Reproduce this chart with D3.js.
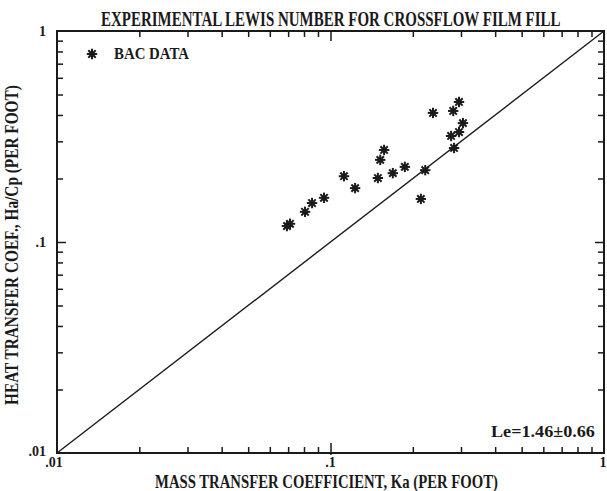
<!DOCTYPE html>
<html>
<head>
<meta charset="utf-8">
<script src="https://cdn.jsdelivr.net/npm/d3@7"></script>
<style>
  html, body { margin: 0; padding: 0; background: #fff; }
  svg { display: block; }
  text { font-family: "Liberation Serif", "DejaVu Serif", serif; font-weight: bold; fill: #1a1a1a; }
</style>
</head>
<body>
<svg id="chart" width="607" height="491"></svg>
<script>
// ---- data ----
const titleText = "EXPERIMENTAL LEWIS NUMBER FOR CROSSFLOW FILM FILL";
const xTitle = "MASS TRANSFER COEFFICIENT, Ka (PER FOOT)";
const yTitle = "HEAT TRANSFER COEF., Ha/Cp (PER FOOT)";
const seriesName = "BAC DATA";
const annotation = "Le=1.46\u00B10.66";

const massTransfer = [0.0693, 0.0711, 0.0807, 0.0856, 0.0947, 0.112, 0.123, 0.149, 0.152, 0.157,
                      0.169, 0.187, 0.222, 0.214, 0.237, 0.281, 0.295, 0.305, 0.295, 0.276, 0.283];
const heatTransfer = [0.119, 0.122, 0.139, 0.153, 0.162, 0.205, 0.180, 0.201, 0.245, 0.273,
                      0.212, 0.227, 0.219, 0.160, 0.409, 0.418, 0.461, 0.366, 0.332, 0.318, 0.279];
const lineX = [0.01, 1];
const lineY = [0.01, 1];
const majorTicks = [0.01, 0.1, 1];
const majorLabels = [".01", ".1", "1"];
const minorTicks = [0.02, 0.03, 0.04, 0.05, 0.06, 0.07, 0.08, 0.09, 0.2, 0.3, 0.4, 0.5, 0.6, 0.7, 0.8, 0.9];

// ---- layout ----
const L = 57, R = 604, T = 31, B = 453;
const ink = "#1a1a1a";
const svg = d3.select("#chart");

const x = d3.scaleLog().domain([0.01, 1]).range([L, R]);
const y = d3.scaleLog().domain([0.01, 1]).range([B, T]);

// frame
svg.append("rect").attr("x", L).attr("y", T).attr("width", R - L).attr("height", B - T)
  .attr("fill", "none").attr("stroke", ink).attr("stroke-width", 2);

function styleAxis(g) {
  g.select(".domain").remove();
  g.selectAll("line").attr("stroke", ink).attr("stroke-width", 1.5);
  g.selectAll("text").remove();
}
// minor ticks (inward)
svg.append("g").attr("transform", `translate(0,${B})`)
  .call(d3.axisBottom(x).tickValues(minorTicks).tickSizeInner(-6).tickSizeOuter(0)).call(styleAxis);
svg.append("g").attr("transform", `translate(0,${T})`)
  .call(d3.axisTop(x).tickValues(minorTicks).tickSizeInner(-6).tickSizeOuter(0)).call(styleAxis);
svg.append("g").attr("transform", `translate(${L},0)`)
  .call(d3.axisLeft(y).tickValues(minorTicks).tickSizeInner(-6).tickSizeOuter(0)).call(styleAxis);
svg.append("g").attr("transform", `translate(${R},0)`)
  .call(d3.axisRight(y).tickValues(minorTicks).tickSizeInner(-6).tickSizeOuter(0)).call(styleAxis);

// major ticks at .1 (longer)
const midMajor = [0.1];
svg.append("g").attr("transform", `translate(0,${B + 2})`)
  .call(d3.axisBottom(x).tickValues(midMajor).tickSizeInner(-12).tickSizeOuter(0)).call(styleAxis);
svg.append("g").attr("transform", `translate(0,${T - 1})`)
  .call(d3.axisTop(x).tickValues(midMajor).tickSizeInner(-11).tickSizeOuter(0)).call(styleAxis);
svg.append("g").attr("transform", `translate(${L - 1},0)`)
  .call(d3.axisLeft(y).tickValues(midMajor).tickSizeInner(-10).tickSizeOuter(0)).call(styleAxis);
svg.append("g").attr("transform", `translate(${R + 1},0)`)
  .call(d3.axisRight(y).tickValues(midMajor).tickSizeInner(-10).tickSizeOuter(0)).call(styleAxis);

// tick labels
majorTicks.forEach((v, i) => {
  const lab = majorLabels[i];
  const xOff = i === 0 ? -3 : (i === 2 ? -1 : 0);
  svg.append("text").attr("x", x(v) + xOff)
    .attr("y", 467).attr("text-anchor", "middle").attr("font-size", 14).text(lab);
  svg.append("text").attr("x", 46).attr("y", y(v) + (i === 0 ? 3 : 5))
    .attr("text-anchor", "end").attr("font-size", 14).text(lab);
});

// diagonal line y = x
svg.append("line")
  .attr("x1", x(lineX[0])).attr("y1", y(lineY[0]))
  .attr("x2", x(lineX[1])).attr("y2", y(lineY[1]))
  .attr("stroke", ink).attr("stroke-width", 1.4);

// asterisk marker
function star(g, cx, cy) {
  const r = 5.2;
  const s = g.append("g").attr("transform", `translate(${cx},${cy})`);
  [0, 45, 90, 135].forEach(a => {
    const rad = a * Math.PI / 180;
    s.append("line")
      .attr("x1", -r * Math.cos(rad)).attr("y1", -r * Math.sin(rad))
      .attr("x2", r * Math.cos(rad)).attr("y2", r * Math.sin(rad))
      .attr("stroke", ink).attr("stroke-width", 2);
  });
  s.append("circle").attr("r", 2.6).attr("fill", ink);
}
const pts = svg.append("g");
massTransfer.forEach((mv, i) => star(pts, x(mv), y(heatTransfer[i])));

// text fitted to a width by horizontal scaling
function fitText(str, size, width, base) {
  const t = svg.append("text").attr("font-size", size).text(str);
  const w = t.node().getComputedTextLength();
  t.attr("transform", `${base} scale(${width / w},1)`);
  return t;
}

// legend
star(svg, 92, 54);
fitText(seriesName, 17, 75, "translate(114,59)");

// annotation
fitText(annotation, 16, 104, "translate(491,437)");

// title
fitText(titleText, 20, 460, "translate(101,26)");

// x title
fitText(xTitle, 18, 343, "translate(155,488)");

// y title
fitText(yTitle, 19, 320, "translate(18,405) rotate(-90)");
</script>
</body>
</html>
